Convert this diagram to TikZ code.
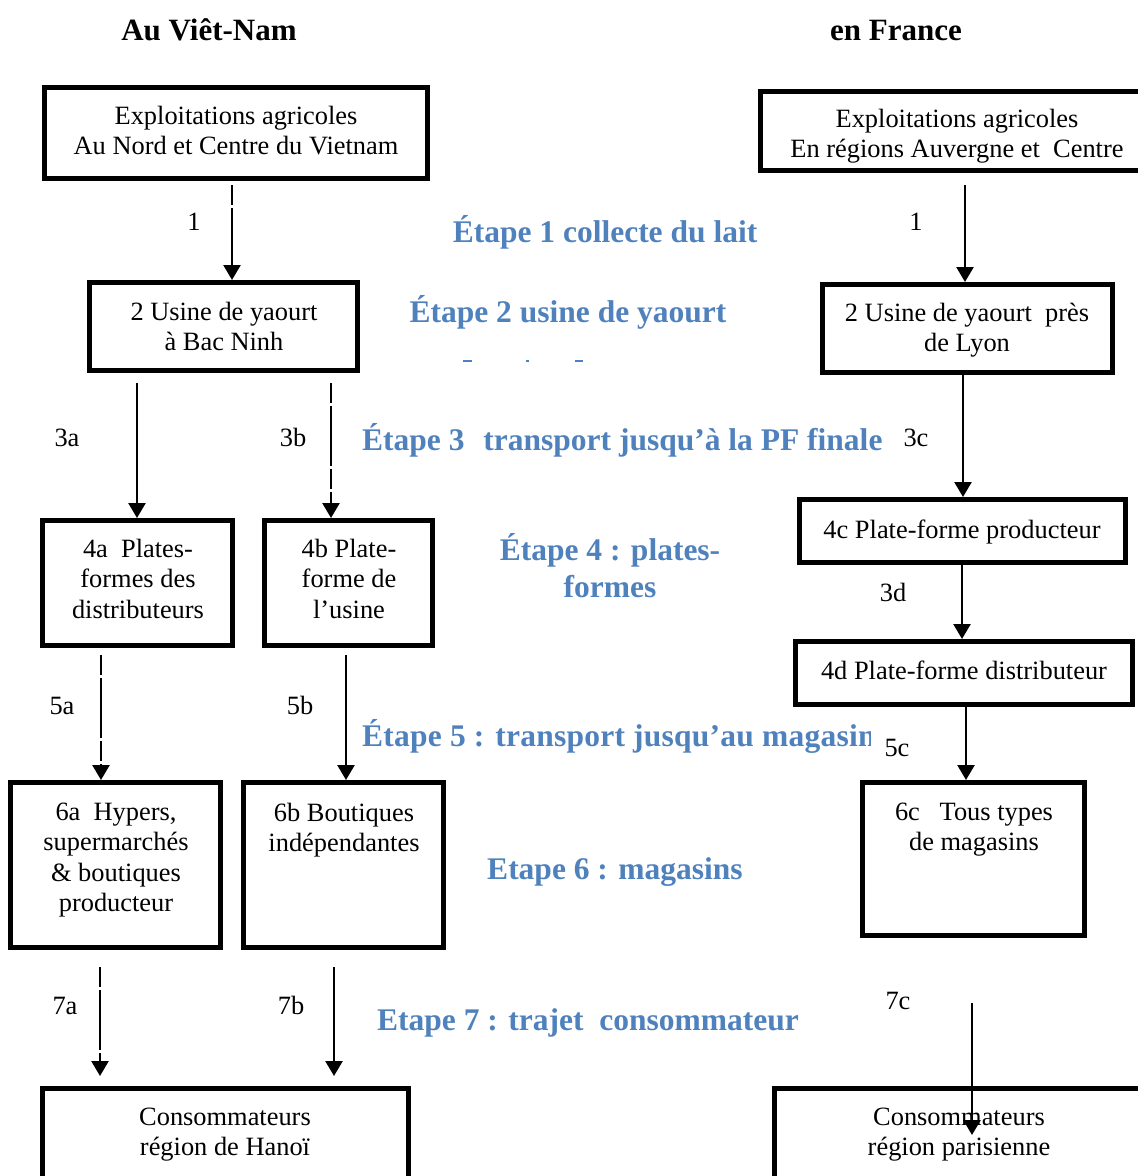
\documentclass[tikz,border=0pt]{standalone}
\usepackage{fontspec}
\setmainfont{Liberation Serif}
\usetikzlibrary{arrows.meta}
\definecolor{stepblue}{HTML}{4F81BD}
\tikzset{
  box/.style={draw, line width=5pt, inner sep=0pt, fill=white},
  txt/.style={align=center, inner sep=0pt, anchor=north, font=\fontsize{26.4}{30.6}\selectfont},
  lbl/.style={inner sep=0pt, anchor=base, font=\fontsize{26.4}{30.6}\selectfont},
  blue/.style={inner sep=0pt, anchor=base, text=stepblue, font=\bfseries\fontsize{31.5}{37}\selectfont},
  ttl/.style={inner sep=0pt, anchor=base, font=\bfseries\fontsize{31}{36}\selectfont},
  arr/.style={line width=2.5pt, -{Triangle[width=17pt 0 0, length=15pt 0 0]}},
  gapped/.style={dash pattern=on 20pt off 3pt on 60pt off 3pt},
}
\begin{document}
\begin{tikzpicture}[x=1pt,y=-1pt]
\useasboundingbox (0,0) rectangle (1138,1176);
\clip (0,0) rectangle (1138,1176);
\fill[white] (0,0) rectangle (1138,1176);

% titles
\node[ttl] (tvn) at (209,40) {Au Viêt-Nam};
\node[ttl] (tfr) at (896,40) {en France};

% boxes
\node[box, minimum width=383pt, minimum height=91pt, anchor=north west] (vnfarm) at (42,85) {};
\node[box, minimum width=382pt, minimum height=79pt, anchor=north west] (frfarm) at (758,89) {};
\node[box, minimum width=268pt, minimum height=88pt, anchor=north west] (vnusine) at (87,280) {};
\node[box, minimum width=290pt, minimum height=88pt, anchor=north west] (frusine) at (820,282) {};
\node[box, minimum width=190pt, minimum height=125pt, anchor=north west] (p4a) at (40,518) {};
\node[box, minimum width=168pt, minimum height=125pt, anchor=north west] (p4b) at (262,518) {};
\node[box, minimum width=326pt, minimum height=63pt, anchor=north west] (p4c) at (797,497) {};
\node[box, minimum width=337pt, minimum height=63pt, anchor=north west] (p4d) at (793,639) {};
\node[box, minimum width=210pt, minimum height=165pt, anchor=north west] (m6a) at (8,780) {};
\node[box, minimum width=200pt, minimum height=165pt, anchor=north west] (m6b) at (241,780) {};
\node[box, minimum width=222pt, minimum height=153pt, anchor=north west] (m6c) at (860,780) {};
\node[box, minimum width=366pt, minimum height=99pt, anchor=north west] (cvn) at (40,1086) {};
\node[box, minimum width=373pt, minimum height=99pt, anchor=north west] (cfr) at (772,1086) {};

% box texts
\node[txt] (tvnfarm) at (236,105.5) {Exploitations agricoles\\Au Nord et Centre du Vietnam};
\node[txt] (tfrfarm) at (957,108.5) {Exploitations agricoles\\En régions Auvergne et~ Centre};
\node[txt] (tvnusine) at (224,301.5) {2 Usine de yaourt\\à Bac Ninh};
\node[txt] (tfrusine) at (967,302.5) {2 Usine de yaourt~ près\\de Lyon};
\node[txt] (tp4a) at (138,538.5) {4a~ Plates-\\formes des\\distributeurs};
\node[txt] (tp4b) at (349,538.5) {4b Plate-\\forme de\\l’usine};
\node[txt] (tp4c) at (962,519.5) {4c Plate-forme producteur};
\node[txt] (tp4d) at (964,660.5) {4d Plate-forme distributeur};
\node[txt] (tm6a) at (116,802.5) {6a~ Hypers,\\supermarchés\\\& boutiques\\producteur};
\node[txt] (tm6b) at (344,802.5) {6b Boutiques\\indépendantes};
\node[txt] (tm6c) at (974,802.5) {6c~~ Tous types\\de magasins};
\node[txt] (tcvn) at (225,1107.5) {Consommateurs\\région de Hanoï};
\node[txt] (tcfr) at (959,1107.5) {Consommateurs\\région parisienne};

% column coordinates
\coordinate (c1vn) at (232,0);
\coordinate (c1fr) at (965,0);
\coordinate (c3a) at (137,0);
\coordinate (c3b) at (331,0);
\coordinate (c3c) at (963,0);
\coordinate (c3d) at (962,0);
\coordinate (c5a) at (101,0);
\coordinate (c5b) at (346,0);
\coordinate (c5c) at (966,0);
\coordinate (c7a) at (100,0);
\coordinate (c7b) at (334,0);
\coordinate (s7c) at (972,1003);
\coordinate (e7c) at (972,1135);

% connectors
\draw[arr, gapped, shorten <=4pt] (vnfarm.south -| c1vn) -- (vnusine.north -| c1vn);
\draw[arr, shorten <=12pt] (frfarm.south -| c1fr) -- (frusine.north -| c1fr);
\draw[arr, shorten <=10pt] (vnusine.south -| c3a) -- (p4a.north -| c3a);
\draw[arr, gapped, shorten <=10pt] (vnusine.south -| c3b) -- (p4b.north -| c3b);
\draw[arr] (frusine.south -| c3c) -- (p4c.north -| c3c);
\draw[arr] (p4c.south -| c3d) -- (p4d.north -| c3d);
\draw[arr, gapped, shorten <=7pt] (p4a.south -| c5a) -- (m6a.north -| c5a);
\draw[arr, shorten <=7pt] (p4b.south -| c5b) -- (m6b.north -| c5b);
\draw[arr] (p4d.south -| c5c) -- (m6c.north -| c5c);
\draw[arr, gapped, shorten <=17pt, shorten >=10pt] (m6a.south -| c7a) -- (cvn.north -| c7a);
\draw[arr, shorten <=17pt, shorten >=10pt] (m6b.south -| c7b) -- (cvn.north -| c7b);
\draw[arr] (s7c) -- (e7c);

% connector labels
\node[lbl] (l1vn) at (194,230) {1};
\node[lbl] (l1fr) at (916,230) {1};
\node[lbl] (l3a) at (67,446) {3a};
\node[lbl] (l3b) at (293,446) {3b};
\node[lbl] (l3c) at (916,446) {3c};
\node[lbl] (l3d) at (893,601) {3d};
\node[lbl] (l5a) at (62,714) {5a};
\node[lbl] (l5b) at (300,714) {5b};
\node[lbl] (l5c) at (897,756) {5c};
\node[lbl] (l7a) at (65,1014) {7a};
\node[lbl] (l7b) at (291,1014) {7b};
\node[lbl] (l7c) at (898,1009) {7c};

% step labels
\node[blue] (e1) at (605,242) {Étape 1 collecte du lait};
\node[blue] (e2) at (568,322) {Étape 2 usine de yaourt};
\draw[stepblue, line width=1.5pt] (463,361) -- (472,361) (526,361) -- (529,361) (575,361) -- (583,361);
\begin{scope}
\clip (300,380) rectangle (884,480);
\node[blue, anchor=base west] (e3) at (362,450) {Étape 3\hspace{0.6em}transport jusqu’à la PF finale};
\end{scope}
\node[blue] (e4a) at (610,560) {Étape 4 : plates-};
\node[blue] (e4b) at (610,597) {formes};
\begin{scope}
\clip (300,700) rectangle (870,770);
\node[blue, anchor=base west] (e5) at (362,746) {\addfontfeature{LetterSpace=0.8}Étape 5 : transport jusqu’au magasin};
\end{scope}
\node[blue] (e6) at (615,879) {Etape 6 : magasins};
\node[blue] (e7) at (588,1030) {Etape 7 : trajet~ consommateur};
\end{tikzpicture}
\end{document}
